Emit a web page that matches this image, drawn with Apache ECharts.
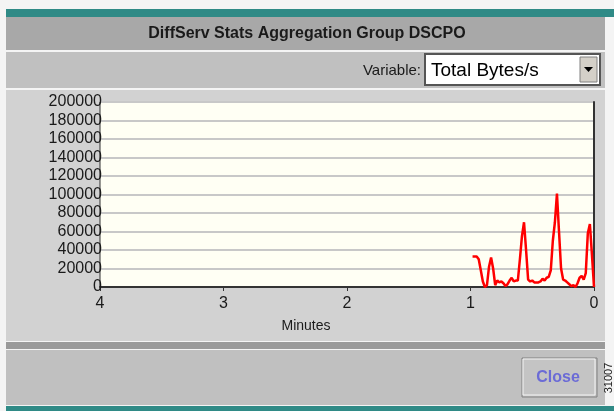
<!DOCTYPE html>
<html><head><meta charset="utf-8">
<script src="https://cdn.jsdelivr.net/npm/echarts@6/dist/echarts.min.js"></script>
<style>html,body{margin:0;padding:0;background:#ffffff;}#c{width:614px;height:411px;}</style>
</head><body><div id="c"></div>
<script>
// Seconds ago (converted to minutes for the x axis)
const secondsAgo = [59,58,57,56,55,54,53,52,51,50,49,48,47,46,45,44,43,42,41,40,39,38,37,36,35,34,33,32,31,30,29,28,27,26,25,24,23,22,21,20,19,18,17,16,15,14,13,12,11,10,9,8,7,6,5,4,3,2,1,0];
// Total Bytes/s
const totalBytes = [33000,33000,33000,30000,18000,6000,0,2000,22000,32000,20000,2000,7000,5000,6000,4000,1000,3000,7000,10000,6000,7000,7000,30000,55000,70000,40000,8000,6000,7000,5000,5000,5000,6000,9000,7000,10000,11000,18000,50000,70000,101000,60000,20000,8000,7000,5000,3000,1000,2000,0,4000,10000,12000,8000,15000,58000,68000,35000,0];
const xTicks = [0,1,2,3,4];
const titleText = 'DiffServ Stats Aggregation Group DSCPO';
const variableLabel = 'Variable:';
const variableValue = 'Total Bytes/s';
const xAxisName = 'Minutes';
const closeLabel = 'Close';
const figId = '31007';

const seriesData = secondsAgo.map((s, i) => [s / 60, totalBytes[i]]);
const chart = echarts.init(document.getElementById('c'));
const font = 'Liberation Sans, Arial, sans-serif';
chart.setOption({
  animation: false,
  backgroundColor: '#ffffff',
  graphic: [
    {type:'rect', z:-10, shape:{x:0,y:0,width:614,height:411}, style:{fill:'#f4f4f4'}},
    {type:'rect', z:-9, shape:{x:6,y:9,width:608,height:8}, style:{fill:'#2f8a86'}},
    {type:'rect', z:-9, shape:{x:6,y:17,width:599,height:33}, style:{fill:'#a8a8a8'}},
    {type:'rect', z:-9, shape:{x:6,y:52,width:599,height:36}, style:{fill:'#c0c0c0'}},
    {type:'rect', z:-9, shape:{x:6,y:90,width:599,height:251}, style:{fill:'#d2d2d2'}},
    {type:'rect', z:-9, shape:{x:6,y:342,width:599,height:7}, style:{fill:'#9a9a9a'}},
    {type:'rect', z:-9, shape:{x:6,y:350,width:599,height:55}, style:{fill:'#c0c0c0'}},
    {type:'rect', z:-9, shape:{x:6,y:406,width:608,height:5}, style:{fill:'#2f8a86'}},
    {type:'text', z:5, style:{x:307,y:34,text:titleText,textAlign:'center',textVerticalAlign:'middle',font:'bold 16px '+font,fill:'#1a1a1a'}},
    {type:'text', z:5, style:{x:421,y:71,text:variableLabel,textAlign:'right',textVerticalAlign:'middle',font:'15px '+font,fill:'#1a1a1a'}},
    {type:'rect', z:4, shape:{x:425,y:54,width:175,height:31}, style:{fill:'#ffffff',stroke:'#555555',lineWidth:2}},
    {type:'rect', z:5, shape:{x:580,y:57,width:17,height:25}, style:{fill:'#d4d0c8',stroke:'#808080',lineWidth:1}},
    {type:'polygon', z:6, shape:{points:[[584,67],[593,67],[588.5,72]]}, style:{fill:'#000000'}},
    {type:'text', z:5, style:{x:431,y:71,text:variableValue,textAlign:'left',textVerticalAlign:'middle',font:'19px '+font,fill:'#000000'}},
    {type:'rect', z:4, shape:{x:522,y:358,width:75,height:39}, style:{fill:'#c4c4c4',stroke:'#808080',lineWidth:1}},
    {type:'rect', z:4, shape:{x:523,y:359,width:72,height:36}, style:{fill:'none',stroke:'#f4f4f4',lineWidth:1}},
    {type:'text', z:5, style:{x:558,y:378,text:closeLabel,textAlign:'center',textVerticalAlign:'middle',font:'bold 16px '+font,fill:'#6b6bd6'}},
    {type:'text', z:5, rotation:Math.PI/2, x:609, y:378, style:{x:0,y:0,text:figId,textAlign:'center',textVerticalAlign:'middle',font:'11px '+font,fill:'#222222'}}
  ],
  grid: {left:100, right:20, top:102, bottom:124, show:true, backgroundColor:'#fffff4', borderColor:'#333333', borderWidth:1},
  xAxis: {
    type:'value', min:0, max:4, interval:1, inverse:true,
    name: xAxisName, nameLocation:'middle', nameGap:32,
    nameTextStyle:{fontFamily:font, fontSize:14, color:'#1a1a1a', padding:[0,82,0,0]},
    axisLine:{lineStyle:{color:'#333333', width:2}},
    axisTick:{show:true, length:4, lineStyle:{color:'#333333'}},
    axisLabel:{fontFamily:font, fontSize:16, color:'#1a1a1a', margin:9, formatter:v => xTicks.includes(v) ? String(v) : ''},
    splitLine:{show:false}
  },
  yAxis: {
    type:'value', min:0, max:200000, interval:20000,
    axisLine:{show:true, lineStyle:{color:'#333333', width:2}},
    axisTick:{show:false},
    axisLabel:{fontFamily:font, fontSize:16, color:'#1a1a1a', margin:-2, formatter:v => String(v)},
    splitLine:{lineStyle:{color:'#c8c8c8', width:2}}
  },
  series: [{
    type:'line', data:seriesData, showSymbol:false, symbol:'none',
    lineStyle:{color:'#ff0000', width:2.5}, itemStyle:{color:'#ff0000'}
  }]
});
</script></body></html>
